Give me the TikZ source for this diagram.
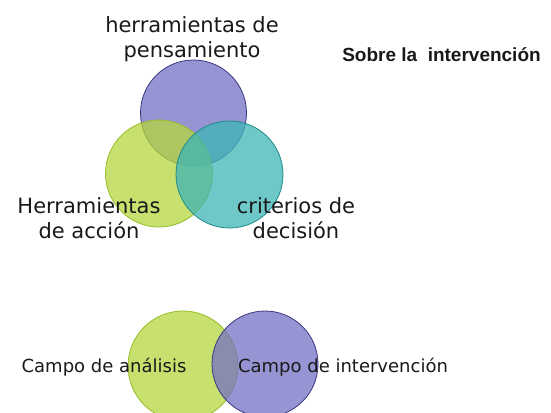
\documentclass[tikz,border=0pt]{standalone}
\usepackage{fontspec}
\setmainfont{DejaVu Sans}
\newfontfamily\arialfont{Liberation Sans}
\definecolor{cpurple}{RGB}{115,112,195}
\definecolor{cgreen}{RGB}{181,215,61}
\definecolor{cteal}{RGB}{61,181,181}
\definecolor{bpurple}{RGB}{60,55,130}
\definecolor{bgreen}{RGB}{150,190,40}
\definecolor{bteal}{RGB}{30,140,140}
\definecolor{txt}{RGB}{25,25,25}
\begin{document}
\begin{tikzpicture}[x=1pt,y=-1pt,
  venn/.style={circle, minimum size=#1, inner sep=0pt, line width=0.8pt, fill opacity=0.75},
  biglabel/.style={font=\fontsize{21}{24.5}\selectfont, text=txt, align=center, anchor=base, inner sep=0pt},
  smalllabel/.style={font=\fontsize{18}{21}\selectfont, text=txt, anchor=base, inner sep=0pt}]
\useasboundingbox (0,0) rectangle (551,412);
\begin{scope}
\clip (0,0) rectangle (551,412);
\node[venn=106pt, fill=cpurple, draw=bpurple] (pens) at (193.5,113) {};
\node[venn=107pt, fill=cgreen, draw=bgreen] (acc) at (159,173.5) {};
\node[venn=107pt, fill=cteal, draw=bteal] (dec) at (229.5,174.5) {};
\node[venn=110pt, fill=cgreen, draw=bgreen] (anal) at (183,366) {};
\node[venn=106pt, fill=cpurple, draw=bpurple] (interv) at (265,364) {};
\end{scope}
\node[biglabel] (lpens) at (192,57) {herramientas de\\pensamiento};
\node[biglabel] (lacc) at (89,238) {Herramientas\\de acción};
\node[biglabel] (ldec) at (296,238) {criterios de\\decisión};
\node[smalllabel] (lanal) at (104,372) {Campo de análisis};
\node[smalllabel] (linterv) at (343,372) {Campo de intervención};
\node[font=\arialfont\bfseries\fontsize{19}{22}\selectfont, text=txt, anchor=base, inner sep=0pt] (title) at (441.5,61) {Sobre la\ \ intervención};
\end{tikzpicture}
\end{document}
